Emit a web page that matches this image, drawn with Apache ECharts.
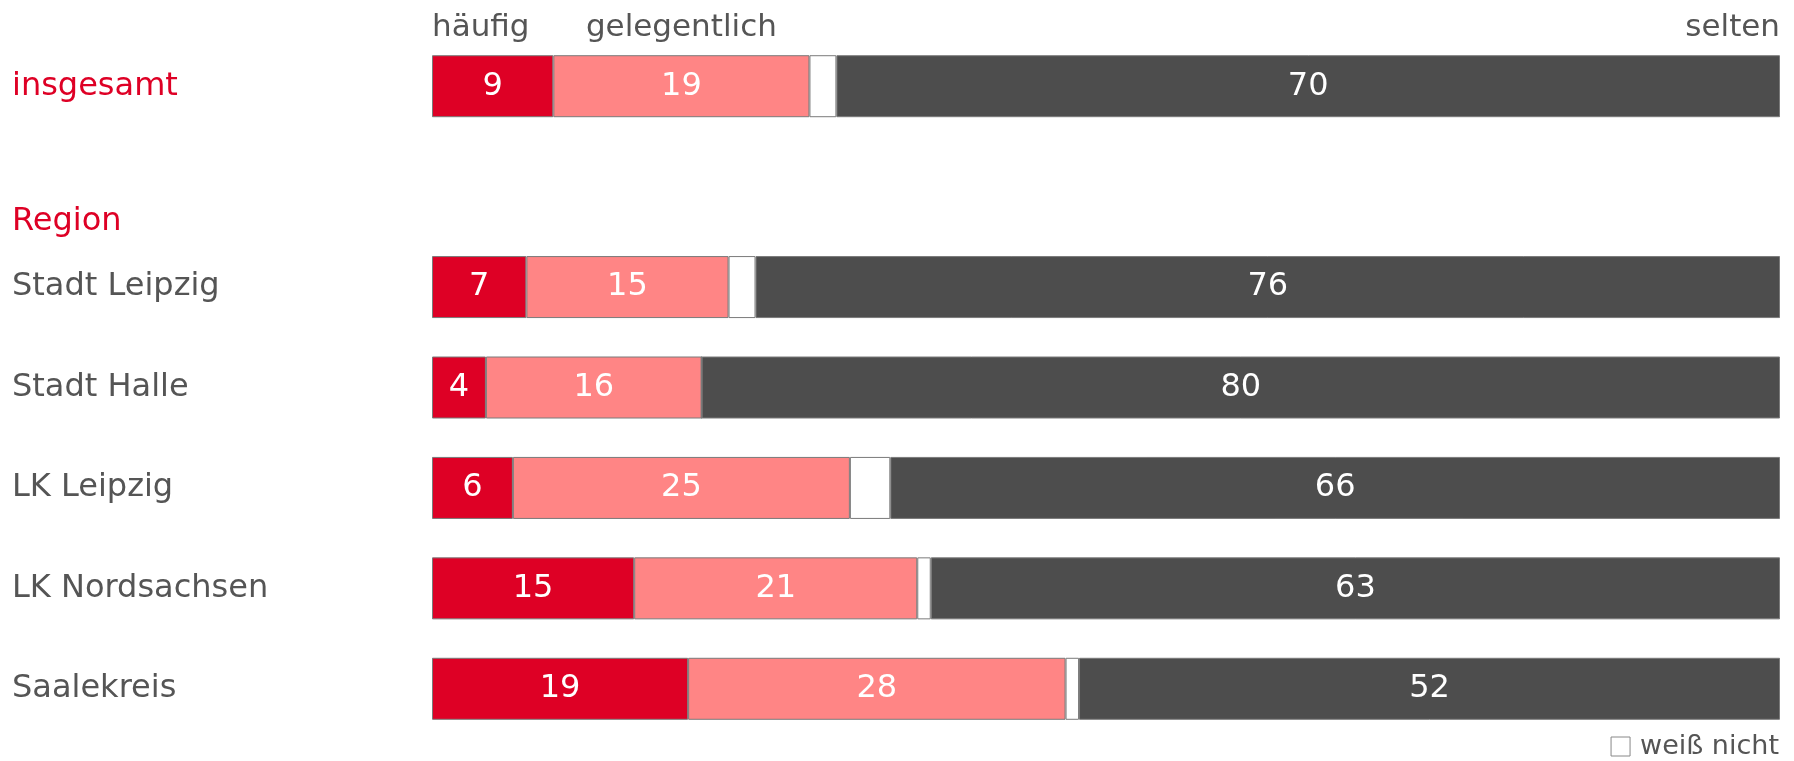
<!DOCTYPE html>
<html>
<head>
<meta charset="utf-8">
<script src="https://cdn.jsdelivr.net/npm/echarts@6/dist/echarts.min.js"></script>
<style>
    html, body { margin: 0; padding: 0; background: #fff; }
    #chart { width: 1794px; height: 761px; }
</style>
</head>
<body>
<div id="chart"></div>
<script>
    // Zeilen (leere Zeile = Überschrift "Region")
    var categories = ['insgesamt', 'Region', 'Stadt Leipzig', 'Stadt Halle', 'LK Leipzig', 'LK Nordsachsen', 'Saalekreis'];
    var haeufig      = [9, null, 7, 4, 6, 15, 19];
    var gelegentlich = [19, null, 15, 16, 25, 21, 28];
    var weissNicht   = [2, null, 2, 0, 3, 1, 1];
    var selten       = [70, null, 76, 80, 66, 63, 52];
    var headers = ['häufig', 'gelegentlich', 'selten'];

    var font = 'DejaVu Sans';
    var red = '#de0025';
    var textGray = '#555555';

    var myChart = echarts.init(document.getElementById('chart'));

    function seg(name, data, color, showLabel) {
        return {
            name: name,
            type: 'bar',
            stack: 'all',
            barWidth: 62,
            data: data,
            itemStyle: {
                color: color,
                borderColor: '#7a7a7a',
                borderWidth: 1
            },
            label: {
                show: showLabel,
                position: 'inside',
                color: '#fff',
                fontFamily: font,
                fontSize: 32,
                formatter: function (p) { return p.value ? p.value : ''; }
            },
            emphasis: { disabled: true }
        };
    }

    var options = {
        animation: false,
        textStyle: { fontFamily: font },
        grid: {
            left: 432,
            right: 14,
            top: 36,
            bottom: 22
        },
        legend: {
            data: ['weiß nicht'],
            right: 10,
            top: 728,
            icon: 'rect',
            itemWidth: 19,
            itemHeight: 19,
            itemGap: 10,
            textStyle: { color: textGray, fontSize: 27, fontFamily: font, padding: [0, 0, 0, 5] },
            itemStyle: { color: '#fff', borderColor: '#888', borderWidth: 1 }
        },
        xAxis: {
            type: 'value',
            min: 0,
            max: 100,
            show: false
        },
        yAxis: {
            type: 'category',
            data: categories,
            inverse: true,
            axisLine: { show: false },
            axisTick: { show: false },
            axisLabel: {
                align: 'left',
                margin: 420,
                color: textGray,
                fontSize: 32,
                fontFamily: font,
                formatter: function (v, i) {
                    if (i === 0) return '{red|' + v + '}';
                    if (i === 1) return '{region|' + v + '}';
                    return v;
                },
                rich: {
                    red: { color: red, fontSize: 32, fontFamily: font },
                    region: { color: red, fontSize: 32, fontFamily: font, padding: [70, 0, 0, 0] }
                }
            }
        },
        series: [
            seg('häufig', haeufig, red, true),
            seg('gelegentlich', gelegentlich, '#ff8585', true),
            seg('weiß nicht', weissNicht, '#ffffff', false),
            seg('selten', selten, '#4d4d4d', true)
        ]
    };
    myChart.setOption(options);

    // Spaltenköpfe über der Zeile "insgesamt"
    var x0 = myChart.convertToPixel({ xAxisIndex: 0 }, 0);
    var xMid = myChart.convertToPixel({ xAxisIndex: 0 }, haeufig[0] + gelegentlich[0] / 2);
    var x100 = myChart.convertToPixel({ xAxisIndex: 0 }, 100);
    var yTop = myChart.convertToPixel({ yAxisIndex: 0 }, categories[0]) - 31 - 12;
    var headStyle = { fill: textGray, fontSize: 31, fontFamily: font, textVerticalAlign: 'bottom' };
    myChart.setOption({
        graphic: [
            { type: 'text', x: x0, y: yTop, style: Object.assign({ text: headers[0], textAlign: 'left' }, headStyle) },
            { type: 'text', x: xMid, y: yTop, style: Object.assign({ text: headers[1], textAlign: 'center' }, headStyle) },
            { type: 'text', x: x100, y: yTop, style: Object.assign({ text: headers[2], textAlign: 'right' }, headStyle) }
        ]
    });
</script>
</body>
</html>
